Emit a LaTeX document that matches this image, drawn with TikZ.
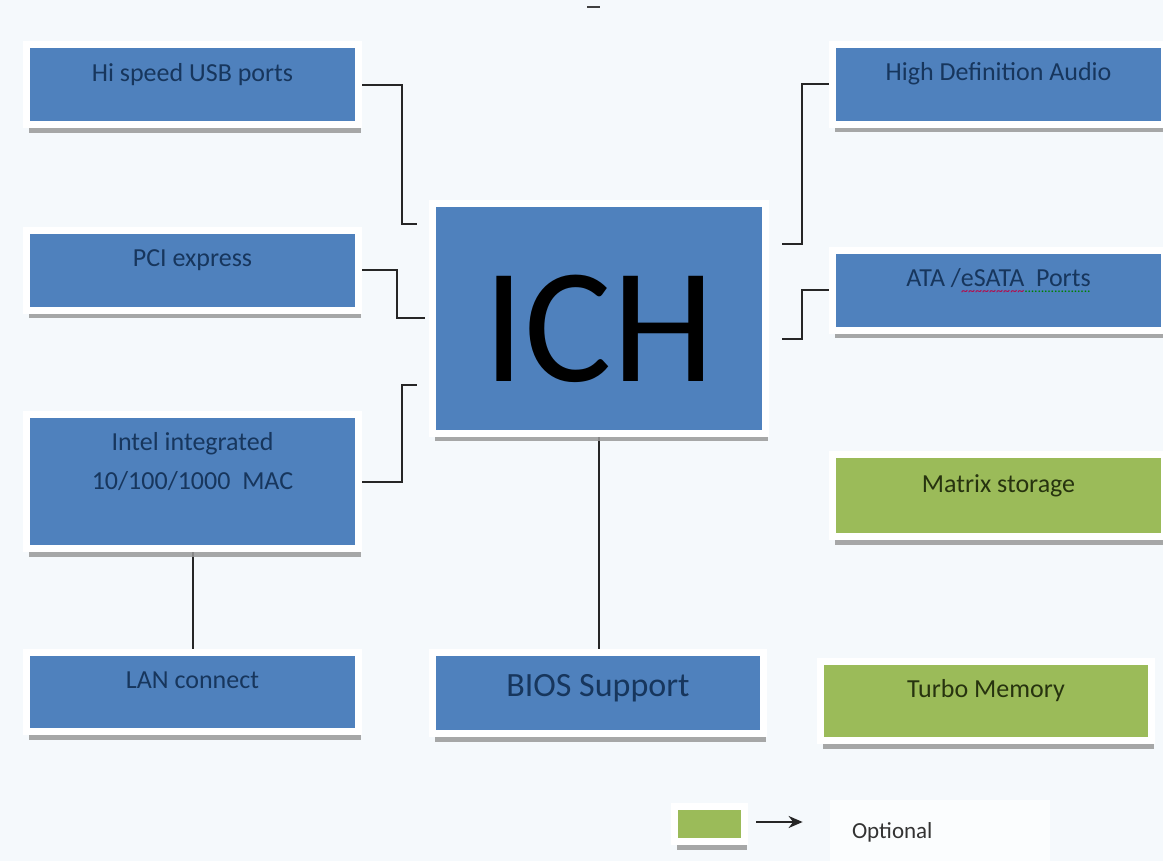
\documentclass[tikz,border=0pt]{standalone}
\usepackage{fontspec}
\setmainfont{Carlito}
\usepackage{tikz}
\usetikzlibrary{arrows.meta,calc,positioning,shadows,backgrounds}

\definecolor{ichblue}{HTML}{4F81BD}
\definecolor{optgreen}{HTML}{9BBB59}
\definecolor{navytext}{HTML}{17365D}
\definecolor{olivetext}{HTML}{27330F}
\definecolor{pagebg}{HTML}{F5F9FC}

% spell-check marks under the ATA label
\newsavebox\markbox
\newcommand\redsquiggle[1]{\sbox\markbox{#1}\rlap{\textcolor{red!75!blue}{\raisebox{-4.5pt}{\hbox to \wd\markbox{\fontsize{7}{7}\selectfont\xleaders\hbox{\char"007E}\hfill}}}}#1}
\newcommand\greendots[1]{\sbox\markbox{#1}\rlap{\textcolor{green!50!black}{\raisebox{-3pt}{\hbox to \wd\markbox{\fontsize{7}{7}\selectfont\xleaders\hbox to 1.6pt{\hss.\hss}\hfill}}}}#1}

\tikzset{
  blk/.style={rectangle, fill=ichblue, draw=white, line width=3.5pt,
    drop shadow={shadow xshift=1pt, shadow yshift=-4pt, fill=black!40, opacity=.85},
    minimum width=166pt, minimum height=40pt, inner sep=0pt,
    text=navytext, font=\fontsize{13}{15.6}\selectfont,
    text height=9pt, text depth=12.5pt},
  opt/.style={blk, fill=optgreen, text=olivetext},
  wire/.style={draw=black!85, line width=1pt},
}

\begin{document}
\begin{tikzpicture}[x=0.5pt, y=-0.5pt]
  \useasboundingbox (0,0) rectangle (1163,861);
  \clip (0,0) rectangle (1163,861);

  % left column
  \node[blk] (usb) at (192.5,85) {Hi speed USB ports};
  \node[blk] (pci) at (192.5,270.5) {PCI express};
  \node[blk, minimum height=67pt, text width=150pt, align=flush center,
        text height=9pt, text depth=39.5pt] (mac) at (192.5,481.5)
        {Intel integrated\\[3.9pt]10/100/1000\ \ MAC};
  \node[blk, minimum height=39.5pt] (lan) at (192.5,692) {LAN connect};

  % centre
  \node[blk, minimum width=166.5pt, minimum height=115pt, text=black,
        font=\fontsize{82}{96}\selectfont, text height=63pt, text depth=0pt]
        (ich) at (599,318.5) {ICH};
  \node[blk, minimum width=165.5pt, minimum height=40.5pt,
        font=\fontsize{17}{20}\selectfont, text height=13pt, text depth=9.3pt]
        (bios) at (598,693) {BIOS Support};

  % right column
  \node[blk] (hda) at (998.5,84.5) {High Definition Audio};
  \node[blk] (ata) at (998.5,290.5) {ATA /\redsquiggle{eSATA}\greendots{\ \ Ports}};
  \node[opt, minimum height=41pt] (matrix) at (998.5,495.5) {Matrix storage};
  \node[opt, minimum width=165.5pt, minimum height=39.5pt] (turbo) at (986,701) {Turbo Memory};

  % legend
  \node[opt, minimum width=35pt, minimum height=17.5pt, text height=0pt, text depth=0pt]
        (leg) at (709.5,824) {};
  \node[fill=white!60!pagebg, text width=88pt, inner xsep=11pt, inner ysep=0pt, align=left,
        minimum height=30.5pt, text=black!80, font=\fontsize{11.5}{13.8}\selectfont,
        text height=9.5pt, text depth=2pt] (opttxt) at (940,830.5) {Optional};
  \draw[wire, -{Stealth[length=7pt, width=6pt]}] ([xshift=4pt,yshift=1pt]leg.east) -- ([xshift=-13.5pt,yshift=1pt]opttxt.west |- leg.east);

  \draw[black!75, line width=1.2pt] (587,7) -- (600,7);

  \begin{scope}[on background layer]
    \fill[pagebg] (0,0) rectangle (1163,861);
    \draw[wire] (usb.east) -- ++(39.5,0) |- ([shift={(-12.5,24.5)}]ich.north west);
    \draw[wire] (pci.east) -- ++(34.5,0) |- ([xshift=-2.25pt]ich.west);
    \draw[wire] (mac.east) -- ++(39.5,0) |- ([shift={(-12.5,-51.5)}]ich.south west);
    \draw[wire] (mac.south) -- (lan.north);
    \draw[wire] (ich.south) -- (ich.south |- bios.north);
    \draw[wire] (hda.west) -- ++(-27.5,0) |- ([shift={(12.5,44.5)}]ich.north east);
    \draw[wire] (ata.west) -- ++(-27.5,0) |- ([shift={(12.5,139.5)}]ich.north east);
  \end{scope}
\end{tikzpicture}
\end{document}
